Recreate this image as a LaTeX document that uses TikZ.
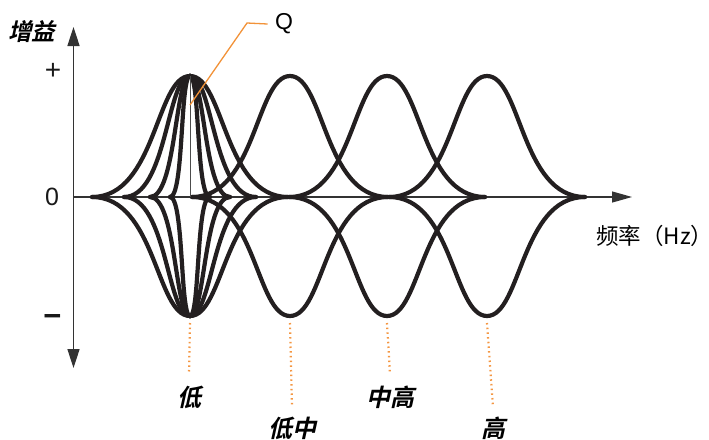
\documentclass[tikz,border=0pt]{standalone}
\usepackage{fontspec}
\setmainfont{Liberation Sans}
\newfontfamily\cjk{Noto Sans CJK SC}
\newfontfamily\cjkbi[FakeSlant=0.22]{Noto Sans CJK SC Bold}
\usetikzlibrary{arrows.meta}

\begin{document}
\begin{tikzpicture}[
    x=1pt, y=-1pt,
    axisline/.style={line width=1.6pt, draw=black!80},
    axistip/.style={-{Triangle[length=19pt,width=12pt]}},
    curve/.style={line width=4.2pt, draw={rgb,255:red,35;green,31;blue,32}, line cap=round},
    qline/.style={line width=1pt, draw=black!70},
    leader/.style={line width=1.3pt, draw={rgb,255:red,242;green,146;blue,56}},
    guide/.style={line width=2.2pt, draw={rgb,255:red,244;green,150;blue,66}, dash pattern=on 1.5pt off 3.2pt},
    ticklabel/.style={font=\fontsize{25}{25}\selectfont, text=black!90},
    bandlabel/.style={font=\cjkbi\fontsize{24}{24}\selectfont},
]
\useasboundingbox (0,0) rectangle (709,439);

% Axes
\coordinate (origin) at (73.5,197);
\coordinate (y-top) at (73.5,27);
\coordinate (y-bot) at (73.5,368);
\coordinate (x-end) at (632,197);
\draw[axisline, {Triangle[length=19pt,width=12pt]}-{Triangle[length=19pt,width=12pt]}] (y-bot) -- (y-top);
\draw[axisline, line width=1.2pt, axistip, -{Triangle[length=20pt,width=11pt]}] (origin) -- (x-end);

% Axis labels
\node[font=\cjkbi\fontsize{23.5}{23.5}\selectfont] (gain) at (32,32) {增益};
\node[ticklabel, font=\fontsize{28}{28}\selectfont] (plus) at (53,71) {+};
\node[ticklabel] (zero) at (52,197) {0};
\node[ticklabel, font=\bfseries\fontsize{31}{31}\selectfont] (minus) at (52.5,320) {−};
\node[anchor=west, font=\cjk\fontsize{22.5}{22.5}\selectfont, inner sep=0pt] (freq) at (596,236) {频率（Hz）};

% Low band, several Q values
\foreach \w/\a/\b in {98/34/34, 66/23/23, 40/14/15, 20/6/10} {
    \foreach \p in {76,316} {
        \draw[curve] (190-\w,197) .. controls (190-\a,197) and (190-\b,\p) .. (190,\p)
            .. controls (190+\b,\p) and (190+\a,197) .. (190+\w,197);
    }
}

% Other bands
\foreach \c in {290,387,487} {
    \foreach \p in {76,316} {
        \draw[curve] (\c-98,197) .. controls (\c-34,197) and (\c-34,\p) .. (\c,\p)
            .. controls (\c+34,\p) and (\c+34,197) .. (\c+98,197);
    }
}

% Q marker
\coordinate (q-top) at (190,76);
\coordinate (q-base) at (190,197);
\coordinate (q-mark) at (190,105);
\coordinate (q-bend) at (247,23);
\draw[qline] (q-top) -- (q-base);
\node[font=\fontsize{23}{23}\selectfont] (Q) at (284,24) {Q};
\draw[leader] (q-mark) -- (q-bend) -- ([xshift=-4pt]Q.west);

% Band labels
\coordinate (lo-t) at (190,316);
\coordinate (lomid-t) at (290,316);
\coordinate (midhi-t) at (387,316);
\coordinate (hi-t) at (487,316);
\node[bandlabel] (lo) at (189,397) {低};
\node[bandlabel] (lomid) at (292,428) {低中};
\node[bandlabel] (midhi) at (390,397) {中高};
\node[bandlabel] (hi) at (493,428) {高};
\draw[guide] ([yshift=-7pt]lo-t) -- ([yshift=8pt]lo.north);
\draw[guide] ([yshift=-7pt]lomid-t) -- ([yshift=6pt]lomid.north);
\draw[guide] ([yshift=-7pt]midhi-t) -- ([yshift=8pt]midhi.north);
\draw[guide] ([yshift=-7pt]hi-t) -- ([yshift=6pt]hi.north);

\end{tikzpicture}
\end{document}
